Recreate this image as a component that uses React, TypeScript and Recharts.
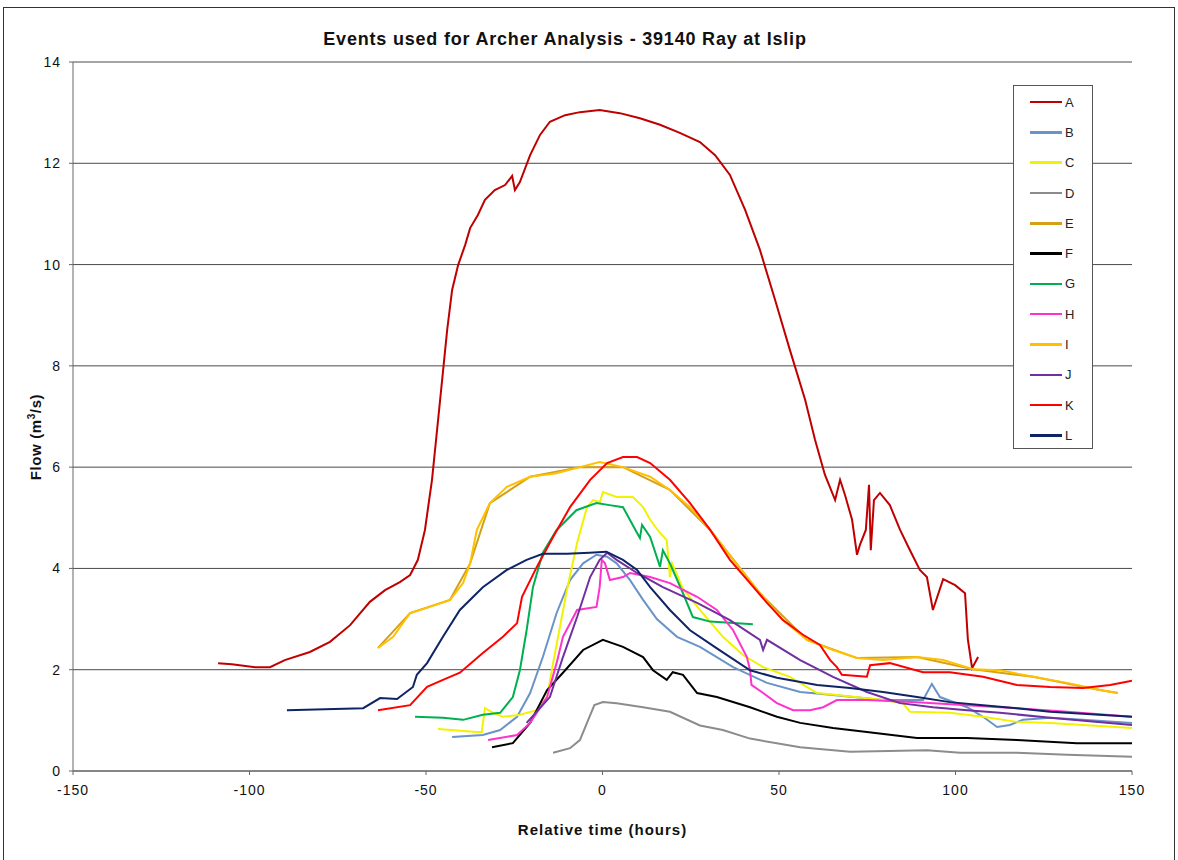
import { LineChart, Line, XAxis, YAxis, CartesianGrid } from 'recharts'

// [relative time (h), flow (m3/s)]
const seriesA: [number, number][] = [
  [-108.9, 2.13], [-105, 2.11], [-98.4, 2.05], [-94.2, 2.05], [-90, 2.19], [-82.9, 2.35],
  [-77.2, 2.55], [-71.5, 2.88], [-65.9, 3.34], [-61.6, 3.57], [-57.4, 3.73], [-54.5, 3.87],
  [-52.3, 4.17], [-50.3, 4.76], [-48.3, 5.75], [-46, 7.33], [-44, 8.71], [-42.6, 9.5],
  [-40.9, 9.99], [-38.9, 10.39], [-37.5, 10.72], [-35.3, 10.98], [-33.3, 11.28], [-30.5, 11.47],
  [-27.6, 11.57], [-25.6, 11.75], [-24.8, 11.47], [-23.4, 11.63], [-20.5, 12.16], [-17.7, 12.56],
  [-14.9, 12.82], [-10.6, 12.95], [-6.4, 13.01], [-0.8, 13.05], [4.9, 12.99], [10.6, 12.89],
  [16.3, 12.76], [21.9, 12.6], [27.6, 12.42], [31.9, 12.16], [36.1, 11.77], [40.4, 11.08],
  [44.6, 10.29], [48.9, 9.3], [53.1, 8.31], [57.4, 7.33], [60.2, 6.54], [63, 5.85],
  [65.9, 5.35], [67.3, 5.75], [68.7, 5.45], [70.7, 4.96], [72.1, 4.27], [72.9, 4.46],
  [74.6, 4.76], [75.5, 5.65], [76, 4.36], [76.9, 5.35], [78.6, 5.49], [81.4, 5.25],
  [84.3, 4.76], [87.1, 4.36], [89.9, 3.97], [91.9, 3.83], [93.6, 3.18], [96.5, 3.79],
  [99.9, 3.67], [102.7, 3.51], [103.5, 2.6], [104.7, 2.03], [106.4, 2.25],
]
const seriesB: [number, number][] = [
  [-42.6, 0.67], [-33.9, 0.71], [-29, 0.81], [-24.2, 1.07], [-20.5, 1.54], [-16.9, 2.25],
  [-13, 3.12], [-9.2, 3.77], [-5.5, 4.1], [-1.7, 4.27], [1.3, 4.23], [4, 4.1], [7.8, 3.77],
  [11.5, 3.38], [15.4, 3.0], [21.1, 2.65], [27.6, 2.45], [37, 2.05], [46.6, 1.74], [56, 1.56],
  [65.3, 1.5], [79.5, 1.4], [90.8, 1.4], [93.3, 1.72], [95.6, 1.46], [103.3, 1.26],
  [107.8, 1.07], [111.8, 0.87], [115.4, 0.91], [119.1, 1.01], [126.8, 1.05], [136.1, 1.01],
  [150, 0.95],
]
const seriesC: [number, number][] = [
  [-46.6, 0.83], [-35.6, 0.77], [-34.2, 0.77], [-33.3, 1.24], [-31, 1.15], [-28.2, 1.07],
  [-23.4, 1.11], [-18.6, 1.2], [-15.7, 1.46], [-14, 2.13], [-10.1, 3.57], [-7.2, 4.5],
  [-4.4, 5.21], [-2.7, 5.35], [-0.7, 5.31], [0.1, 5.51], [4, 5.41], [8.6, 5.41], [11.5, 5.21],
  [13.5, 4.96], [16.3, 4.7], [18.2, 4.56], [19.1, 3.83], [19.7, 4.1], [22.8, 3.6],
  [27.6, 3.18], [34.1, 2.65], [39.8, 2.29], [45.5, 2.05], [53.1, 1.86], [60.8, 1.54],
  [66.4, 1.5], [79.5, 1.4], [85.1, 1.34], [87.1, 1.17], [98.4, 1.15], [107.8, 1.07],
  [117.4, 0.97], [126.8, 0.95], [136.1, 0.91], [150, 0.85],
]
const seriesD: [number, number][] = [
  [-14, 0.36], [-9.2, 0.45], [-6.4, 0.61], [-4.1, 1.0], [-2.3, 1.3], [0.1, 1.36], [4, 1.34],
  [11.5, 1.26], [19.1, 1.17], [27.6, 0.9], [34.1, 0.81], [41.8, 0.64], [56, 0.47],
  [70.1, 0.38], [91.9, 0.41], [101.3, 0.36], [117.4, 0.36], [131.6, 0.32], [150, 0.28],
]
const seriesE: [number, number][] = [
  [-63.6, 2.43], [-54.5, 3.12], [-43.2, 3.38], [-37.5, 4.1], [-31.9, 5.29], [-20.5, 5.81],
  [-6.4, 6.0], [5.8, 6.0], [19.1, 5.55], [30.5, 4.76], [44.6, 3.51], [57.9, 2.59],
  [72.1, 2.23], [89.1, 2.25], [105, 2.01], [122, 1.86], [140.9, 1.6], [146, 1.54],
]
const seriesF: [number, number][] = [
  [-31.3, 0.47], [-25.4, 0.55], [-20.5, 0.95], [-15.7, 1.6], [-11.2, 1.94], [-5.5, 2.39],
  [0.1, 2.59], [5.8, 2.45], [11.5, 2.25], [14.3, 1.99], [18.2, 1.8], [19.9, 1.95],
  [22.8, 1.9], [26.8, 1.54], [32.4, 1.46], [41.8, 1.26], [49.4, 1.07], [56, 0.95],
  [65.3, 0.85], [74.9, 0.77], [89.1, 0.65], [103.3, 0.65], [117.4, 0.61], [134.4, 0.55],
  [150, 0.55],
]
const seriesG: [number, number][] = [
  [-53.1, 1.07], [-45.2, 1.05], [-39.5, 1.01], [-33.9, 1.11], [-29, 1.15], [-25.4, 1.46],
  [-23.4, 1.99], [-21.5, 2.78], [-19.7, 3.63], [-16.9, 4.31], [-13, 4.76], [-7.4, 5.15],
  [-1.7, 5.29], [2, 5.25], [5.8, 5.21], [9.8, 4.7], [10.6, 4.6], [11.2, 4.86], [13.5, 4.62],
  [16.3, 4.03], [17.1, 4.36], [19.1, 4.1], [22.8, 3.51], [25.6, 3.04], [30.5, 2.95],
  [42.6, 2.9],
]
const seriesH: [number, number][] = [
  [-32.4, 0.61], [-24.2, 0.71], [-20.5, 0.95], [-15.7, 1.46], [-13, 2.13], [-11.2, 2.65],
  [-7.2, 3.18], [-1.7, 3.24], [-0.8, 3.63], [-0.2, 4.17], [0.7, 4.1], [2.1, 3.77],
  [5.8, 3.83], [7.8, 3.91], [13.5, 3.83], [19.1, 3.71], [26.8, 3.44], [32.4, 3.18],
  [37, 2.78], [40.9, 2.25], [41.8, 1.99], [42.2, 1.7], [45.5, 1.54], [49.4, 1.34],
  [54, 1.2], [58.8, 1.2], [62.5, 1.26], [66.4, 1.4], [74.9, 1.4], [89.1, 1.36],
  [103.3, 1.3], [117.4, 1.24], [131.6, 1.17], [150, 1.07],
]
const seriesI: [number, number][] = [
  [-63.6, 2.43], [-59.3, 2.65], [-54.5, 3.12], [-48.9, 3.24], [-43.2, 3.38], [-39.5, 3.71],
  [-37.5, 4.1], [-35.6, 4.76], [-31.9, 5.29], [-27.1, 5.61], [-20.5, 5.81], [-13, 5.88],
  [-6.4, 6.0], [-0.8, 6.1], [5.8, 6.0], [13.5, 5.81], [19.1, 5.55], [24.8, 5.21],
  [30.5, 4.76], [37, 4.17], [44.6, 3.51], [51.1, 2.98], [57.9, 2.59], [65.3, 2.39],
  [72.1, 2.23], [79.5, 2.19], [89.1, 2.25], [96.5, 2.19], [105, 2.01], [112.6, 1.99],
  [122, 1.86], [131.6, 1.74], [140.9, 1.6], [146, 1.54],
]
const seriesJ: [number, number][] = [
  [-21.5, 0.95], [-14.9, 1.46], [-11.2, 2.25], [-7.2, 3.04], [-3.5, 3.83], [-0.8, 4.17],
  [1.3, 4.31], [4, 4.17], [9.8, 3.91], [17.1, 3.63], [26.8, 3.32], [36.1, 2.98],
  [44.6, 2.59], [45.5, 2.39], [46.6, 2.59], [56, 2.19], [65.3, 1.86], [74.9, 1.56],
  [84.3, 1.34], [93.6, 1.26], [103.3, 1.2], [112.6, 1.15], [126.8, 1.05], [150, 0.91],
]
const seriesK: [number, number][] = [
  [-63.6, 1.2], [-54.5, 1.3], [-49.7, 1.66], [-45.2, 1.8], [-40.4, 1.94], [-33.9, 2.33],
  [-28.2, 2.65], [-24.2, 2.92], [-22.8, 3.44], [-18.6, 4.03], [-14, 4.62], [-9.2, 5.21],
  [-3.5, 5.75], [1.3, 6.08], [5.8, 6.2], [9.8, 6.2], [13.5, 6.08], [19.1, 5.75],
  [24.8, 5.29], [30.5, 4.76], [36.1, 4.17], [41.8, 3.71], [46.6, 3.32], [51.1, 2.98],
  [56.8, 2.69], [61.6, 2.49], [64.5, 2.19], [66.4, 2.05], [67.8, 1.9], [74.9, 1.86],
  [75.8, 2.09], [81.4, 2.13], [90.8, 1.95], [98.4, 1.95], [107.8, 1.86], [117.4, 1.7],
  [126.8, 1.66], [136.1, 1.64], [143.8, 1.7], [150, 1.78],
]
const seriesL: [number, number][] = [
  [-89.4, 1.2], [-67.8, 1.24], [-63, 1.44], [-58.2, 1.42], [-53.7, 1.66], [-52.6, 1.9],
  [-49.7, 2.13], [-45.2, 2.65], [-40.4, 3.18], [-33.9, 3.63], [-27.1, 3.97], [-21.5, 4.17],
  [-16.9, 4.29], [-10.1, 4.29], [-3.7, 4.31], [1.1, 4.33], [5.8, 4.17], [9.8, 3.97],
  [13.5, 3.63], [19.1, 3.18], [24.8, 2.78], [32.4, 2.42], [41.8, 1.99], [49.4, 1.84],
  [60.8, 1.7], [70.1, 1.64], [79.5, 1.56], [89.1, 1.46], [98.4, 1.36], [107.8, 1.3],
  [117.4, 1.24], [126.8, 1.17], [136.1, 1.13], [150, 1.07],
]

const names = ['A', 'B', 'C', 'D', 'E', 'F', 'G', 'H', 'I', 'J', 'K', 'L']
const colours = [
  '#C00000', '#6A93C8', '#F2F200', '#8C8C8C', '#D4A017', '#000000',
  '#00B050', '#FF33CC', '#FFC000', '#7030A0', '#FF0000', '#0E2464',
]
const allSeries = [
  seriesA, seriesB, seriesC, seriesD, seriesE, seriesF,
  seriesG, seriesH, seriesI, seriesJ, seriesK, seriesL,
]
const xTicks = [-150, -100, -50, 0, 50, 100, 150]
const yTicks = [0, 2, 4, 6, 8, 10, 12, 14]

const font = '"Liberation Sans", Arial, sans-serif'
const tickStyle = { fontSize: 14, fill: '#111', fontFamily: font, letterSpacing: 1 }

function LegendBox() {
  return (
    <div style={{
      position: 'absolute', left: 1013, top: 85,
      border: '1px solid #555', background: '#fff', width: 80, height: 364,
      boxSizing: 'border-box', paddingTop: 1,
    }}>
      {names.map((n, i) => (
        <div key={n} style={{ display: 'flex', alignItems: 'center', height: 30.3 }}>
          <div style={{ width: 32, height: 2.5, background: colours[i], marginLeft: 16 }} />
          <span style={{ fontSize: 13, color: '#222', marginLeft: 3, fontFamily: font }}>{n}</span>
        </div>
      ))}
    </div>
  )
}

export default function App() {
  return (
    <div style={{ position: 'relative', width: 1178, height: 860, background: '#fff', fontFamily: font }}>
      <style>{'body{margin:0}'}</style>
      <div style={{
        position: 'absolute', left: 3, top: 7, width: 1172, height: 860,
        border: '1px solid #333', boxSizing: 'border-box',
      }} />
      <div style={{
        position: 'absolute', top: 29, left: 0, width: 1130, textAlign: 'center',
        fontWeight: 'bold', fontSize: 18, letterSpacing: 0.8, color: '#111',
      }}>
        Events used for Archer Analysis - 39140 Ray at Islip
      </div>
      <div style={{ position: 'absolute', left: 0, top: 0 }}>
        <LineChart width={1178} height={860} margin={{ top: 62, right: 46, left: 13, bottom: 29 }}>
          <CartesianGrid vertical={false} stroke="#4a4a4a" strokeWidth={1} />
          <XAxis
            type="number" dataKey="x" domain={[-150, 150]} ticks={xTicks}
            allowDataOverflow height={60} stroke="#666"
            tick={tickStyle} tickSize={4} tickMargin={10}
            label={{ value: 'Relative time (hours)', position: 'insideBottom', offset: -4, fontSize: 15, fontWeight: 'bold', fill: '#111', letterSpacing: 1 }}
          />
          <YAxis
            type="number" dataKey="y" domain={[0, 14]} ticks={yTicks}
            width={60} stroke="#666"
            tick={tickStyle} tickSize={4} tickMargin={8}
          />
          {allSeries.map((s, i) => (
            <Line
              key={names[i]}
              name={names[i]}
              data={s.map(([x, y]) => ({ x, y }))}
              dataKey="y"
              type="linear"
              stroke={colours[i]}
              strokeWidth={2}
              dot={false}
              isAnimationActive={false}
            />
          ))}
        </LineChart>
      </div>
      <div style={{
        position: 'absolute', left: 35, top: 437, transform: 'translate(-50%, -50%) rotate(-90deg)',
        whiteSpace: 'nowrap', fontWeight: 'bold', fontSize: 15, letterSpacing: 0.6, color: '#111',
      }}>
        Flow (m<sup style={{ fontSize: 10 }}>3</sup>/s)
      </div>
      <LegendBox />
    </div>
  )
}
